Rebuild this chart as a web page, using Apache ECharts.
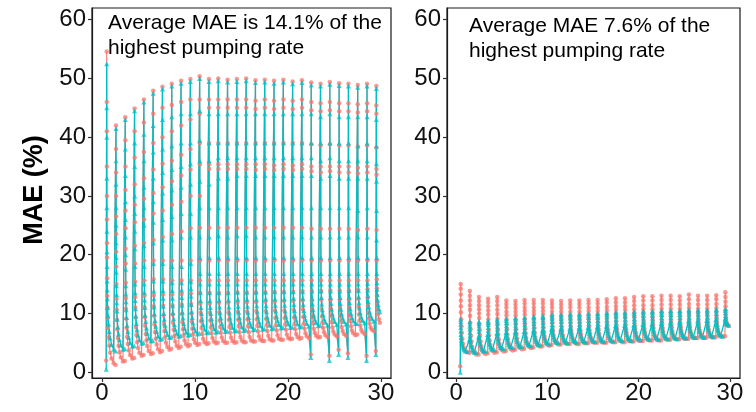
<!DOCTYPE html>
<html><head><meta charset="utf-8">
<script src="https://cdn.jsdelivr.net/npm/echarts@6/dist/echarts.min.js"></script>
<style>html,body{margin:0;padding:0;background:#fff}#c{width:756px;height:412px}</style>
</head><body><div id="c"></div>
<script>
// Day index (cycle start) for every daily pumping cycle
const days = Array.from({length: 30}, (_, i) => i);
// Within-cycle time offsets (days) of the sampled points
const leftOffsets = [0.45, 0.50, 0.505, 0.51, 0.515, 0.52, 0.525, 0.53, 0.54, 0.55, 0.56, 0.575, 0.60, 0.64, 0.70, 0.78, 0.88, 1.02, 1.25];
const rightOffsets = [0.45, 0.50, 0.505, 0.51, 0.515, 0.52, 0.53, 0.55, 0.58, 0.62, 0.68, 0.76, 0.86, 1.0, 1.2];
const xTicks = [0, 10, 20, 30];
const yTicks = [0, 10, 20, 30, 40, 50, 60];

// Left panel, cyan series (MAE %), one row per cycle
const leftCyan = [
 [0.5, 52.5, 45, 40, 33, 28, 24, 20.5, 18, 15.5, 14, 12.5, 11, 9.6, 8.2, 6.9, 5.8, 4.7, 3.9],
 [3.6, 41.5, 36, 32, 28, 25, 22, 19.5, 17, 14.7, 13.2, 11.8, 10.4, 9.0, 7.7, 6.5, 5.5, 4.6, 3.9],
 [4.0, 43, 38, 33.5, 29, 26, 23, 20, 17.5, 14.7, 13.3, 12.0, 10.6, 9.3, 8.0, 6.9, 5.9, 5.0, 4.4],
 [4.5, 44.5, 39, 35, 30, 27, 24, 21, 18, 15, 13.5, 12.2, 10.8, 9.5, 8.3, 7.2, 6.3, 5.5, 4.9],
 [5.0, 46, 40.5, 36, 31.5, 28, 25, 21.5, 18, 15, 13.6, 12.3, 11.0, 9.7, 8.6, 7.5, 6.6, 5.8, 5.3],
 [5.4, 47.5, 42, 37.5, 33, 29, 25.5, 22, 18.5, 15.5, 13.8, 12.5, 11.1, 9.9, 8.8, 7.8, 6.9, 6.1, 5.6],
 [5.7, 48.2, 43, 38, 34, 30.5, 26, 22.5, 18.5, 15.5, 13.9, 12.6, 11.2, 10.0, 9.0, 8.0, 7.1, 6.4, 5.9],
 [6.0, 48.7, 43.5, 38.5, 34.5, 31, 26.5, 22.5, 18, 15.2, 13.9, 12.6, 11.3, 10.1, 9.1, 8.1, 7.3, 6.6, 6.1],
 [6.2, 49.2, 44, 39, 35, 31.5, 27, 23, 18, 15.2, 14.0, 12.7, 11.4, 10.2, 9.2, 8.3, 7.5, 6.8, 6.3],
 [6.4, 49.5, 44, 39, 35.5, 32, 27, 23, 18.5, 15.4, 14.2, 12.9, 11.5, 10.3, 9.3, 8.4, 7.6, 7.0, 6.5],
 [6.6, 50, 44.5, 39.5, 36, 32.5, 28, 23, 19.5, 16.8, 15, 13.5, 12.2, 11.0, 10.0, 9.0, 8.1, 7.3, 6.7],
 [6.8, 49.5, 44, 39, 36, 32, 28, 23, 19.5, 16.8, 15, 13.5, 12.2, 11.0, 10.0, 9.1, 8.2, 7.4, 6.8],
 [6.9, 49.6, 44, 39, 36.5, 33, 28, 23.2, 19.5, 16.8, 15, 13.5, 12.3, 11.1, 10.1, 9.2, 8.3, 7.5, 6.9],
 [7.0, 49.4, 44, 39, 36.5, 33, 28, 23, 19.5, 16.8, 15, 13.5, 12.3, 11.1, 10.1, 9.2, 8.4, 7.6, 7.0],
 [7.1, 49.5, 44, 39, 36.5, 33.5, 28, 23.2, 19.5, 16.8, 15, 13.6, 12.4, 11.2, 10.2, 9.3, 8.5, 7.7, 7.1],
 [7.2, 49.6, 44, 39, 36.5, 33.5, 28, 23.2, 19.5, 16.8, 15, 13.6, 12.4, 11.2, 10.2, 9.3, 8.5, 7.8, 7.2],
 [7.3, 49.3, 44, 39, 36.5, 33.5, 28, 23, 19.5, 16.8, 15, 13.6, 12.4, 11.3, 10.3, 9.4, 8.6, 7.9, 7.3],
 [7.4, 49.4, 44, 39, 36.5, 33.5, 28, 23, 19.5, 16.8, 15, 13.6, 12.5, 11.3, 10.3, 9.4, 8.7, 8.0, 7.4],
 [7.5, 49.2, 44, 39, 36.5, 33.5, 28, 23, 19.5, 16.8, 15, 13.7, 12.5, 11.4, 10.4, 9.5, 8.8, 8.1, 7.5],
 [7.6, 49.4, 44, 39, 36.5, 33.5, 28, 23, 19.5, 16.8, 15, 13.7, 12.5, 11.4, 10.4, 9.5, 8.8, 8.2, 7.6],
 [7.7, 49.1, 44, 39, 36.5, 33.5, 28, 23, 19.5, 16.8, 15, 13.7, 12.6, 11.5, 10.5, 9.6, 8.9, 8.2, 7.7],
 [7.8, 49.3, 44, 39, 36.5, 33.5, 28, 23, 19.5, 16.8, 15, 13.7, 12.6, 11.5, 10.5, 9.7, 9.0, 8.3, 7.8],
 [2.5, 48.9, 44, 39, 36.5, 33.5, 28, 23, 19.5, 16.8, 15, 13.8, 12.6, 11.6, 10.6, 9.7, 9.0, 8.4, 7.9],
 [8.0, 48.7, 43.5, 39, 36, 33, 28, 23, 19.5, 16.8, 15, 13.8, 12.7, 11.6, 10.6, 9.8, 9.1, 8.5, 8.0],
 [2.0, 49.0, 44, 39, 36.5, 33.5, 28, 23, 19.5, 16.8, 15, 13.8, 12.7, 11.7, 10.7, 9.9, 9.2, 8.6, 8.1],
 [3.0, 48.8, 43.5, 39, 36, 33, 28, 23, 19.5, 16.8, 15, 13.8, 12.7, 11.7, 10.7, 9.9, 9.2, 8.6, 8.2],
 [2.5, 48.7, 43.5, 39, 36, 33, 28, 23, 19.5, 16.8, 15, 13.9, 12.8, 11.8, 10.8, 10.0, 9.3, 8.7, 8.3],
 [8.3, 48.5, 43.5, 38.5, 36, 33, 27.5, 23, 19.5, 16.8, 15, 13.9, 12.8, 11.8, 10.9, 10.1, 9.4, 8.8, 8.4],
 [2.0, 48.7, 43.5, 39, 36, 33, 28, 23, 19.5, 16.8, 15.1, 14.0, 13.0, 12.0, 11.1, 10.3, 9.7, 9.1, 8.7],
 [3.0, 48.3, 43, 38.5, 35.5, 32.5, 27.5, 22.5, 19.5, 16.8, 15.2, 14.1, 13.2, 12.3, 11.5, 10.8, 10.3]
];
// Left panel, red series
const leftRed = [
 [2, 54.6, 46, 41, 35, 30, 26, 22, 19.5, 16, 13, 11, 9.2, 7.5, 5.9, 4.5, 3.3, 2.3, 1.5],
 [1.2, 42, 38, 34, 30, 26.5, 23.5, 20.5, 18, 15, 12.5, 10.6, 8.9, 7.3, 5.8, 4.5, 3.4, 2.5, 1.8],
 [1.9, 43.4, 39.5, 35, 31, 27.5, 24.5, 21, 18.5, 15.2, 12.6, 10.8, 9.1, 7.5, 6.0, 4.8, 3.7, 2.9, 2.3],
 [2.4, 44.9, 41, 36.5, 32, 28.5, 25.5, 21.5, 18.5, 15.4, 12.8, 11.0, 9.3, 7.7, 6.3, 5.1, 4.1, 3.3, 2.8],
 [2.9, 46.4, 42.5, 37.5, 33, 29.5, 26, 22, 19, 15.6, 13.0, 11.1, 9.4, 7.9, 6.5, 5.4, 4.4, 3.6, 3.1],
 [3.2, 47.9, 44, 39, 34.5, 30.5, 27, 22.5, 19, 15.8, 13.1, 11.2, 9.6, 8.1, 6.8, 5.7, 4.7, 3.9, 3.4],
 [3.6, 48.6, 45, 40, 35.5, 31.5, 27.5, 23, 19, 15.8, 13.2, 11.3, 9.7, 8.2, 7.0, 5.9, 5.0, 4.3, 3.8],
 [4.0, 49.1, 45.5, 41, 36, 32.5, 28.5, 23.5, 19, 15.6, 13.2, 11.4, 9.8, 8.4, 7.2, 6.1, 5.2, 4.5, 4.1],
 [4.3, 49.6, 46, 42, 37, 33.5, 29, 24, 19, 15.6, 13.3, 11.5, 9.9, 8.5, 7.3, 6.3, 5.4, 4.8, 4.4],
 [4.6, 49.9, 46.4, 43, 38, 34.5, 30, 24.5, 19, 15.6, 13.4, 11.6, 10.0, 8.6, 7.4, 6.4, 5.6, 5.0, 4.6],
 [4.8, 50.4, 46.4, 44, 39, 35.4, 30, 24.6, 19, 15.6, 13.5, 11.7, 10.1, 8.7, 7.5, 6.5, 5.7, 5.1, 4.8],
 [4.9, 49.9, 46.4, 45, 39, 35.4, 34.6, 24.6, 19, 15.6, 13.5, 11.7, 10.1, 8.8, 7.6, 6.6, 5.8, 5.2, 4.9],
 [5.0, 50, 46.4, 45, 39, 35.4, 34.6, 24.6, 19, 15.6, 13.5, 11.8, 10.2, 8.8, 7.7, 6.7, 5.9, 5.3, 5.0],
 [5.0, 49.8, 46.4, 45, 39, 35.4, 34.6, 24.6, 19, 15.6, 13.5, 11.8, 10.2, 8.9, 7.7, 6.7, 5.9, 5.3, 5.0],
 [5.1, 49.9, 46.4, 45, 39, 35.4, 34.6, 24.6, 19, 15.6, 13.6, 11.8, 10.3, 8.9, 7.8, 6.8, 6.0, 5.4, 5.1],
 [5.1, 50, 46.4, 45, 39, 35.4, 34.6, 24.6, 19, 15.6, 13.6, 11.9, 10.3, 9.0, 7.8, 6.8, 6.0, 5.4, 5.2],
 [5.2, 49.7, 46.2, 44.8, 39, 35.4, 34.4, 24.6, 19, 15.6, 13.6, 11.9, 10.4, 9.0, 7.9, 6.9, 6.1, 5.5, 5.3],
 [5.3, 49.8, 46.4, 45, 39, 35.4, 34.6, 24.6, 19, 15.6, 13.6, 12.0, 10.4, 9.1, 8.0, 7.0, 6.2, 5.6, 5.4],
 [5.4, 49.6, 46.2, 44.8, 39, 35.2, 34.4, 24.6, 19, 15.6, 13.7, 12.0, 10.5, 9.2, 8.0, 7.1, 6.3, 5.7, 5.5],
 [5.5, 49.8, 46.4, 45, 39, 35.4, 34.6, 24.6, 19, 15.6, 13.7, 12.1, 10.5, 9.2, 8.1, 7.2, 6.4, 5.8, 5.6],
 [5.7, 49.5, 46.2, 44.8, 39, 35.2, 34.4, 24.6, 19, 15.6, 13.7, 12.1, 10.6, 9.3, 8.2, 7.3, 6.5, 6.0, 5.7],
 [5.8, 49.7, 46.4, 45, 39, 35.4, 34.6, 24.6, 19, 15.6, 13.8, 12.2, 10.7, 9.4, 8.3, 7.4, 6.6, 6.1, 5.8],
 [3.0, 49.3, 46, 44.6, 38.8, 35, 34.2, 24.4, 19, 15.6, 13.8, 12.2, 10.7, 9.4, 8.3, 7.4, 6.7, 6.2, 5.9],
 [6.0, 49.1, 45.8, 44.4, 38.6, 35, 34, 24.4, 19, 15.6, 13.8, 12.3, 10.8, 9.5, 8.4, 7.5, 6.8, 6.3, 6.0],
 [2.8, 49.4, 46, 44.6, 38.8, 35, 34.2, 24.4, 19, 15.6, 13.9, 12.3, 10.8, 9.6, 8.5, 7.6, 6.9, 6.4, 6.1],
 [3.8, 49.2, 45.8, 44.4, 38.6, 35, 34, 24.4, 19, 15.6, 13.9, 12.4, 10.9, 9.6, 8.6, 7.7, 7.0, 6.5, 6.2],
 [3.2, 49.1, 45.8, 44.4, 38.6, 35, 34, 24.4, 19, 15.6, 13.9, 12.4, 11.0, 9.7, 8.7, 7.8, 7.1, 6.6, 6.3],
 [6.4, 48.9, 45.6, 44.2, 38.4, 34.8, 33.8, 24.2, 19, 15.6, 14.0, 12.5, 11.1, 9.8, 8.8, 7.9, 7.2, 6.8, 6.5],
 [2.8, 49.1, 45.8, 44.4, 38.6, 35, 34, 24.4, 19, 15.6, 14.1, 12.7, 11.3, 10.1, 9.1, 8.3, 7.6, 7.2, 7.0],
 [3.6, 48.7, 45.4, 44, 38.2, 34.6, 33.6, 24.2, 19, 15.8, 14.3, 13.0, 11.8, 10.7, 9.8, 9.0, 8.4]
];
// Right panel, red series
const rightRed = [
 [1.0, 15.0, 14.2, 13.2, 12.2, 11.2, 10.2, 9.0, 7.8, 6.7, 5.7, 4.8, 4.1, 3.7, 3.4],
 [3.3, 13.8, 13.0, 12.2, 11.4, 10.6, 9.6, 8.4, 7.3, 6.2, 5.2, 4.3, 3.7, 3.3, 3.0],
 [3.0, 12.8, 12.1, 11.4, 10.7, 10.0, 9.2, 8.2, 7.2, 6.2, 5.2, 4.4, 3.8, 3.4, 3.1],
 [3.2, 12.5, 11.9, 11.2, 10.5, 9.8, 9.0, 8.1, 7.2, 6.3, 5.4, 4.6, 4.0, 3.6, 3.3],
 [3.4, 12.8, 12.1, 11.4, 10.6, 9.9, 9.1, 8.2, 7.3, 6.4, 5.5, 4.8, 4.2, 3.8, 3.5],
 [3.6, 12.2, 11.6, 11.0, 10.3, 9.7, 9.0, 8.1, 7.3, 6.4, 5.6, 4.9, 4.3, 3.9, 3.7],
 [3.8, 12.1, 11.5, 10.9, 10.3, 9.7, 9.0, 8.2, 7.3, 6.5, 5.7, 5.0, 4.5, 4.1, 3.9],
 [4.0, 12.3, 11.7, 11.0, 10.4, 9.8, 9.1, 8.2, 7.4, 6.6, 5.8, 5.1, 4.6, 4.3, 4.1],
 [4.2, 12.3, 11.7, 11.0, 10.4, 9.8, 9.1, 8.3, 7.5, 6.7, 5.9, 5.3, 4.8, 4.5, 4.3],
 [4.4, 12.3, 11.7, 11.0, 10.4, 9.8, 9.1, 8.3, 7.6, 6.8, 6.1, 5.5, 5.0, 4.7, 4.5],
 [4.6, 12.2, 11.6, 11.0, 10.3, 9.7, 9.0, 8.4, 7.7, 7.0, 6.3, 5.7, 5.2, 4.9, 4.7],
 [4.7, 12.1, 11.5, 10.9, 10.3, 9.7, 9.0, 8.4, 7.7, 7.0, 6.3, 5.7, 5.2, 4.9, 4.8],
 [4.8, 12.2, 11.6, 11.0, 10.3, 9.7, 9.0, 8.4, 7.7, 7.0, 6.4, 5.8, 5.3, 5.0, 4.8],
 [4.8, 12.2, 11.6, 11.0, 10.3, 9.7, 9.0, 8.4, 7.8, 7.1, 6.4, 5.8, 5.3, 5.0, 4.9],
 [4.9, 12.3, 11.7, 11.0, 10.4, 9.8, 9.1, 8.5, 7.8, 7.1, 6.5, 5.9, 5.4, 5.1, 5.0],
 [5.0, 12.3, 11.7, 11.0, 10.4, 9.8, 9.1, 8.5, 7.8, 7.2, 6.5, 5.9, 5.4, 5.1, 5.0],
 [5.0, 12.4, 11.8, 11.1, 10.5, 9.9, 9.2, 8.5, 7.9, 7.2, 6.6, 6.0, 5.5, 5.2, 5.1],
 [5.1, 12.6, 11.9, 11.2, 10.6, 10.0, 9.3, 8.6, 7.9, 7.3, 6.6, 6.0, 5.6, 5.3, 5.1],
 [5.1, 12.6, 11.9, 11.2, 10.6, 10.0, 9.3, 8.6, 8.0, 7.3, 6.7, 6.1, 5.6, 5.3, 5.2],
 [5.2, 12.8, 12.1, 11.4, 10.7, 10.1, 9.4, 8.7, 8.0, 7.4, 6.7, 6.1, 5.7, 5.4, 5.3],
 [5.3, 12.9, 12.2, 11.4, 10.7, 10.1, 9.4, 8.7, 8.1, 7.4, 6.8, 6.2, 5.8, 5.5, 5.4],
 [5.4, 12.9, 12.2, 11.4, 10.7, 10.1, 9.4, 8.8, 8.1, 7.5, 6.8, 6.3, 5.8, 5.5, 5.4],
 [5.4, 13.0, 12.3, 11.5, 10.8, 10.2, 9.5, 8.8, 8.2, 7.5, 6.9, 6.3, 5.9, 5.6, 5.5],
 [5.5, 13.0, 12.3, 11.5, 10.8, 10.2, 9.5, 8.8, 8.2, 7.6, 6.9, 6.4, 6.0, 5.7, 5.6],
 [5.6, 12.9, 12.2, 11.5, 10.8, 10.2, 9.5, 8.9, 8.2, 7.6, 7.0, 6.4, 6.0, 5.7, 5.7],
 [5.7, 13.2, 12.4, 11.6, 10.9, 10.3, 9.6, 8.9, 8.3, 7.7, 7.0, 6.5, 6.1, 5.8, 5.8],
 [5.8, 13.0, 12.3, 11.5, 10.8, 10.2, 9.5, 8.9, 8.3, 7.7, 7.1, 6.6, 6.2, 5.9, 5.9],
 [5.9, 13.0, 12.3, 11.5, 10.8, 10.2, 9.6, 9.0, 8.4, 7.8, 7.2, 6.7, 6.3, 6.0, 6.0],
 [6.0, 13.1, 12.4, 11.6, 10.9, 10.3, 9.6, 9.0, 8.4, 7.8, 7.2, 6.7, 6.3, 6.1, 6.1],
 [6.1, 13.6, 12.8, 12.0, 11.2, 10.5, 9.8, 9.3, 8.9, 8.5, 8.2, 8.0, 7.9]
];
// Right panel, cyan series
const rightCyan = [
 [0.0, 9.0, 8.6, 8.2, 7.6, 7.0, 6.4, 5.9, 5.4, 4.9, 4.5, 4.1, 3.8, 3.6, 3.5],
 [5.5, 8.6, 8.2, 7.8, 7.3, 6.8, 6.2, 5.7, 5.2, 4.7, 4.3, 3.9, 3.6, 3.4, 3.4],
 [6.0, 8.6, 8.3, 7.9, 7.4, 6.9, 6.3, 5.8, 5.3, 4.9, 4.5, 4.1, 3.8, 3.6, 3.6],
 [6.4, 8.8, 8.5, 8.1, 7.6, 7.1, 6.5, 6.0, 5.5, 5.1, 4.7, 4.3, 4.0, 3.9, 3.8],
 [6.6, 9.0, 8.7, 8.3, 7.8, 7.3, 6.7, 6.2, 5.7, 5.3, 4.9, 4.5, 4.2, 4.1, 4.0],
 [6.7, 9.1, 8.8, 8.4, 7.9, 7.4, 6.8, 6.3, 5.9, 5.5, 5.1, 4.7, 4.4, 4.3, 4.2],
 [6.8, 9.2, 8.9, 8.5, 8.0, 7.5, 6.9, 6.5, 6.0, 5.6, 5.2, 4.8, 4.5, 4.4, 4.4],
 [6.9, 9.3, 9.0, 8.6, 8.1, 7.6, 7.0, 6.6, 6.2, 5.8, 5.4, 5.0, 4.7, 4.6, 4.5],
 [7.0, 9.5, 9.2, 8.8, 8.3, 7.8, 7.2, 6.8, 6.4, 6.0, 5.6, 5.2, 4.9, 4.7, 4.7],
 [7.1, 9.6, 9.3, 8.9, 8.4, 7.9, 7.4, 7.0, 6.6, 6.2, 5.8, 5.4, 5.1, 4.9, 4.8],
 [7.3, 9.8, 9.5, 9.1, 8.6, 8.1, 7.6, 7.2, 6.8, 6.4, 6.0, 5.6, 5.3, 5.1, 5.0],
 [7.3, 9.8, 9.5, 9.1, 8.6, 8.1, 7.6, 7.2, 6.8, 6.4, 6.0, 5.6, 5.3, 5.1, 5.0],
 [7.4, 9.9, 9.6, 9.2, 8.7, 8.2, 7.7, 7.3, 6.9, 6.5, 6.1, 5.7, 5.4, 5.2, 5.1],
 [7.5, 9.9, 9.6, 9.2, 8.7, 8.2, 7.7, 7.3, 6.9, 6.5, 6.1, 5.7, 5.4, 5.2, 5.1],
 [7.6, 10.0, 9.7, 9.3, 8.8, 8.3, 7.8, 7.4, 7.0, 6.6, 6.2, 5.8, 5.5, 5.3, 5.2],
 [7.7, 10.0, 9.7, 9.3, 8.8, 8.3, 7.8, 7.4, 7.0, 6.6, 6.2, 5.8, 5.5, 5.3, 5.2],
 [7.8, 10.1, 9.8, 9.4, 8.9, 8.4, 7.9, 7.5, 7.1, 6.7, 6.3, 5.9, 5.6, 5.4, 5.3],
 [7.9, 10.2, 9.9, 9.5, 9.0, 8.5, 8.0, 7.6, 7.2, 6.8, 6.4, 6.0, 5.7, 5.5, 5.4],
 [8.0, 10.2, 9.9, 9.5, 9.0, 8.5, 8.0, 7.6, 7.2, 6.8, 6.4, 6.0, 5.7, 5.5, 5.4],
 [8.0, 10.3, 10.0, 9.6, 9.1, 8.6, 8.1, 7.7, 7.3, 6.9, 6.5, 6.1, 5.8, 5.6, 5.5],
 [8.1, 10.4, 10.1, 9.7, 9.2, 8.7, 8.2, 7.8, 7.4, 7.0, 6.6, 6.2, 5.9, 5.7, 5.6],
 [8.2, 10.4, 10.1, 9.7, 9.2, 8.7, 8.2, 7.8, 7.4, 7.0, 6.6, 6.2, 5.9, 5.7, 5.6],
 [8.3, 10.5, 10.2, 9.8, 9.3, 8.8, 8.3, 7.9, 7.5, 7.1, 6.7, 6.3, 6.0, 5.8, 5.7],
 [8.4, 10.5, 10.2, 9.8, 9.3, 8.8, 8.3, 7.9, 7.5, 7.1, 6.7, 6.3, 6.0, 5.8, 5.7],
 [8.5, 10.5, 10.2, 9.8, 9.3, 8.8, 8.3, 7.9, 7.5, 7.1, 6.8, 6.4, 6.1, 5.9, 5.8],
 [8.7, 10.6, 10.3, 9.9, 9.4, 8.9, 8.4, 8.0, 7.6, 7.2, 6.9, 6.5, 6.2, 6.0, 5.9],
 [8.7, 10.6, 10.3, 9.9, 9.4, 8.9, 8.4, 8.0, 7.6, 7.2, 6.9, 6.5, 6.2, 6.0, 5.9],
 [8.8, 10.6, 10.3, 9.9, 9.4, 8.9, 8.4, 8.0, 7.7, 7.3, 7.0, 6.6, 6.3, 6.1, 6.0],
 [8.9, 10.7, 10.4, 10.0, 9.5, 9.0, 8.5, 8.1, 7.8, 7.4, 7.1, 6.7, 6.4, 6.2, 6.1],
 [9.0, 10.8, 10.5, 10.1, 9.6, 9.2, 8.8, 8.6, 8.4, 8.3, 8.2, 8.1, 8.0]
];
const annotations = [
  ['Average MAE is 14.1% of the', 'highest pumping rate'],
  ['Average MAE 7.6% of the', 'highest pumping rate']
];
const yTitle = 'MAE (%)';

function toPoints(rows, offsets) {
  const pts = [];
  days.forEach((d, i) => rows[i].forEach((v, k) => pts.push([d + offsets[k], v])));
  return pts;
}

const RED = '#F8766D', CYAN = '#00BFC4';
const FONT = '"Liberation Sans", Arial, Helvetica, sans-serif';

function axesFor(gi, xmin, xmax) {
  return {
    x: {
      type: 'value', gridIndex: gi, min: xmin, max: xmax,
      axisLine: {show: true, onZero: false, lineStyle: {color: '#1a1a1a', width: 1.2}},
      axisTick: {show: true, length: 4, lineStyle: {color: '#333', width: 1.2}, customValues: xTicks},
      axisLabel: {customValues: xTicks, color: '#111', fontSize: 24, fontFamily: FONT, margin: 3},
      splitLine: {show: false}
    },
    y: {
      type: 'value', gridIndex: gi, min: -1.0, max: 62.0,
      axisLine: {show: true, onZero: false, lineStyle: {color: '#1a1a1a', width: 1.2}},
      axisTick: {show: true, length: 4, lineStyle: {color: '#333', width: 1.2}, customValues: yTicks},
      axisLabel: {customValues: yTicks, color: '#111', fontSize: 24, fontFamily: FONT, margin: 6},
      splitLine: {show: false}
    }
  };
}
const a0 = axesFor(0, -1.08, 31.08);
const a1 = axesFor(1, -1.0, 31.1);

function seriesFor(gi, redRows, cyanRows, offsets) {
  const red = toPoints(redRows, offsets);
  const cyan = toPoints(cyanRows, offsets);
  return [
    {type: 'line', xAxisIndex: gi, yAxisIndex: gi, data: red, symbol: 'none',
     lineStyle: {color: RED, width: 1.2, opacity: 0.9}, z: 1},
    {type: 'line', xAxisIndex: gi, yAxisIndex: gi, data: cyan, symbol: 'none',
     lineStyle: {color: CYAN, width: 1.3}, z: 2},
    {type: 'scatter', xAxisIndex: gi, yAxisIndex: gi, data: red, symbol: 'circle', symbolSize: 4.5,
     itemStyle: {color: RED, opacity: 0.75}, z: 3},
    {type: 'scatter', xAxisIndex: gi, yAxisIndex: gi, data: cyan, symbol: 'triangle', symbolSize: 5,
     itemStyle: {color: CYAN, opacity: 0.75}, z: 4}
  ];
}

const chart = echarts.init(document.getElementById('c'), null, {renderer: 'canvas'});
chart.setOption({
  animation: false,
  backgroundColor: '#fff',
  grid: [
    {left: 92, top: 8, width: 299, height: 370, show: true, borderColor: '#1a1a1a', borderWidth: 1.2, backgroundColor: 'transparent'},
    {left: 447, top: 8, width: 293, height: 370, show: true, borderColor: '#1a1a1a', borderWidth: 1.2, backgroundColor: 'transparent'}
  ],
  xAxis: [a0.x, a1.x],
  yAxis: [a0.y, a1.y],
  series: [].concat(seriesFor(0, leftRed, leftCyan, leftOffsets), seriesFor(1, rightRed, rightCyan, rightOffsets)),
  graphic: [
    {type: 'text', x: 35, y: 190, rotation: Math.PI / 2, z: 10,
     style: {text: yTitle, font: 'bold 27px ' + FONT, fill: '#000', textAlign: 'center', textVerticalAlign: 'middle'}},
    {type: 'text', x: 108, y: 23.5, z: 10, style: {text: annotations[0][0], font: '21px ' + FONT, fill: '#000', textVerticalAlign: 'middle'}},
    {type: 'text', x: 108, y: 48.5, z: 10, style: {text: annotations[0][1], font: '21px ' + FONT, fill: '#000', textVerticalAlign: 'middle'}},
    {type: 'text', x: 469, y: 26.5, z: 10, style: {text: annotations[1][0], font: '21px ' + FONT, fill: '#000', textVerticalAlign: 'middle'}},
    {type: 'text', x: 469, y: 51.5, z: 10, style: {text: annotations[1][1], font: '21px ' + FONT, fill: '#000', textVerticalAlign: 'middle'}}
  ]
});
</script></body></html>
